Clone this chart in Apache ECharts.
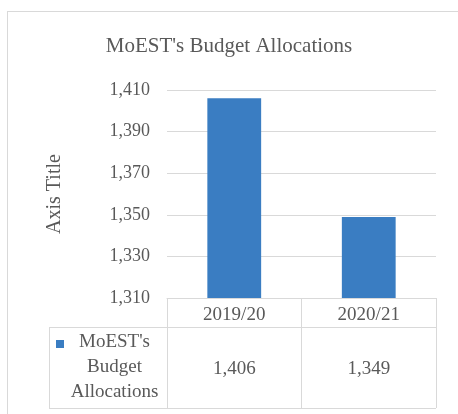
<!DOCTYPE html>
<html>
<head>
<meta charset="utf-8">
<script src="https://cdn.jsdelivr.net/npm/echarts@6/dist/echarts.min.js"></script>
<style>
  html, body { margin: 0; padding: 0; background: #fff; }
  #main { width: 458px; height: 414px; }
</style>
</head>
<body>
<div id="main"></div>
<script>
// 数据
const categories = ['2019/20', '2020/21'];
const budgetValues = [1406, 1349];
const seriesName = "MoEST's Budget Allocations";
const legendLines = ["MoEST's", 'Budget', 'Allocations'];
const yTicks = { min: 1310, max: 1410, step: 20 };

const fmt = (v) => v.toLocaleString('en-US');
const font = '"Liberation Serif", "DejaVu Serif", serif';
const grey = '#595959';
const lineGrey = '#d9d9d9';
const barBlue = '#3a7dc2';

const chart = echarts.init(document.getElementById('main'));
const option = {
    animation: false,
    title: {
        text: "MoEST's Budget Allocations",
        left: 'center',
        top: 31,
        textStyle: { fontFamily: font, fontSize: 21, fontWeight: 'normal', color: grey }
    },
    grid: { left: 167, right: 22, top: 90, bottom: 116 },
    xAxis: [
        {
            type: 'category',
            data: categories,
            position: 'bottom',
            axisLine: { show: true, lineStyle: { color: lineGrey } },
            axisTick: { show: true, interval: 0, length: 110, lineStyle: { color: lineGrey } },
            axisLabel: { fontFamily: font, fontSize: 19, color: grey, margin: 8 }
        },
        {
            type: 'category',
            data: budgetValues.map(fmt), // 数据行
            position: 'bottom',
            offset: 62,
            axisLine: { show: false },
            axisTick: { show: false },
            axisLabel: { fontFamily: font, fontSize: 19, color: grey, margin: 0 }
        }
    ],
    yAxis: {
        type: 'value',
        min: yTicks.min,
        max: yTicks.max,
        interval: yTicks.step,
        name: 'Axis Title',
        nameLocation: 'middle',
        nameGap: 102,
        nameTextStyle: { fontFamily: font, fontSize: 20, color: grey },
        axisLine: { show: false },
        axisTick: { show: false },
        axisLabel: { fontFamily: font, fontSize: 18, color: grey, margin: 17, formatter: (v) => fmt(v) },
        splitLine: { lineStyle: { color: lineGrey, width: 1 } }
    },
    series: [
        {
            name: seriesName,
            type: 'bar',
            xAxisIndex: 0,
            barWidth: '40%',
            itemStyle: { color: barBlue },
            data: budgetValues
        }
    ],
    graphic: [
        // 外框（上、左）
        { type: 'line', shape: { x1: 7, y1: 11.5, x2: 458, y2: 11.5 }, style: { stroke: lineGrey, lineWidth: 1 } },
        { type: 'line', shape: { x1: 7.5, y1: 11, x2: 7.5, y2: 414 }, style: { stroke: lineGrey, lineWidth: 1 } },
        // 表格线
        { type: 'line', shape: { x1: 49, y1: 327.5, x2: 436, y2: 327.5 }, style: { stroke: lineGrey, lineWidth: 1 } },
        { type: 'line', shape: { x1: 49, y1: 408.5, x2: 436, y2: 408.5 }, style: { stroke: lineGrey, lineWidth: 1 } },
        { type: 'line', shape: { x1: 49.5, y1: 327, x2: 49.5, y2: 409 }, style: { stroke: lineGrey, lineWidth: 1 } },
        // 图例
        { type: 'rect', shape: { x: 56, y: 340, width: 8, height: 8 }, style: { fill: barBlue } },
        {
            type: 'text', x: 114.5, y: 330, style: {
                text: legendLines.join('\n'), font: '19px ' + font, fill: grey,
                align: 'center', verticalAlign: 'top', lineHeight: 25
            }
        }
    ]
};
chart.setOption(option);
</script>
</body>
</html>
